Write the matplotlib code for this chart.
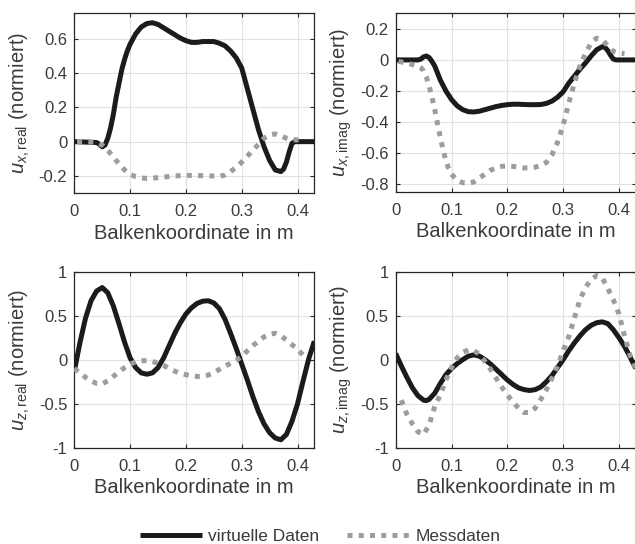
import matplotlib
matplotlib.use("Agg")
import matplotlib.pyplot as plt

plt.rcParams['font.family'] = ['Liberation Sans', 'DejaVu Sans']
plt.rcParams['mathtext.fontset'] = 'custom'
plt.rcParams['mathtext.rm'] = 'Liberation Sans'
plt.rcParams['mathtext.it'] = 'Liberation Sans:italic'

############################## Data ##################################
# u_x real part
uxr_virt_x = [0, 0.04, 0.045, 0.05, 0.055, 0.06, 0.065, 0.07, 0.075, 0.08, 0.085, 0.09,
              0.095, 0.10, 0.11, 0.12, 0.13, 0.14, 0.15, 0.16, 0.17, 0.18, 0.19, 0.20,
              0.21, 0.22, 0.23, 0.24, 0.25, 0.26, 0.27, 0.28, 0.29, 0.30, 0.31, 0.32,
              0.33, 0.34, 0.35, 0.36, 0.37, 0.375, 0.38, 0.385, 0.39, 0.395, 0.43]
uxr_virt_y = [0, -0.005, -0.015, -0.03, -0.02, 0.02, 0.08, 0.16, 0.26, 0.34, 0.42, 0.48,
              0.53, 0.57, 0.63, 0.67, 0.69, 0.695, 0.685, 0.665, 0.645, 0.625, 0.605, 0.59,
              0.58, 0.58, 0.585, 0.585, 0.585, 0.575, 0.56, 0.53, 0.49, 0.43, 0.31, 0.19,
              0.07, -0.03, -0.11, -0.165, -0.175, -0.16, -0.12, -0.06, -0.01, 0, 0]
uxr_mess_x = [0.005, 0.02, 0.04, 0.05, 0.06, 0.07, 0.08, 0.09, 0.10, 0.11, 0.12, 0.13,
              0.14, 0.16, 0.18, 0.20, 0.22, 0.24, 0.26, 0.27, 0.28, 0.29, 0.30, 0.31,
              0.32, 0.33, 0.34, 0.35, 0.36, 0.37, 0.38, 0.39, 0.40, 0.41]
uxr_mess_y = [0, 0, -0.005, -0.02, -0.05, -0.09, -0.13, -0.165, -0.19, -0.205, -0.212, -0.215,
              -0.213, -0.207, -0.2, -0.197, -0.198, -0.2, -0.202, -0.195, -0.175, -0.15, -0.12, -0.085,
              -0.05, -0.015, 0.02, 0.04, 0.045, 0.035, 0.02, 0.012, 0.01, 0.008]

# u_x imaginary part
uxi_virt_x = [0, 0.04, 0.045, 0.05, 0.055, 0.06, 0.065, 0.07, 0.08, 0.09, 0.10, 0.11,
              0.12, 0.13, 0.14, 0.15, 0.16, 0.17, 0.18, 0.19, 0.20, 0.21, 0.22, 0.23,
              0.24, 0.25, 0.26, 0.27, 0.28, 0.29, 0.30, 0.31, 0.32, 0.33, 0.34, 0.35,
              0.36, 0.37, 0.375, 0.38, 0.385, 0.39, 0.395, 0.43]
uxi_virt_y = [0, 0, 0.005, 0.02, 0.025, 0.015, -0.01, -0.04, -0.13, -0.2, -0.255, -0.295,
              -0.32, -0.333, -0.335, -0.33, -0.32, -0.31, -0.3, -0.293, -0.288, -0.285, -0.285, -0.287,
              -0.288, -0.288, -0.287, -0.28, -0.265, -0.24, -0.205, -0.15, -0.105, -0.06, -0.02, 0.025,
              0.065, 0.085, 0.08, 0.06, 0.03, 0.005, 0, 0]
uxi_mess_x = [0.005, 0.02, 0.03, 0.04, 0.045, 0.05, 0.055, 0.06, 0.065, 0.07, 0.075, 0.08,
              0.085, 0.09, 0.095, 0.10, 0.11, 0.12, 0.13, 0.14, 0.15, 0.16, 0.17, 0.18,
              0.19, 0.20, 0.21, 0.22, 0.23, 0.24, 0.25, 0.26, 0.27, 0.28, 0.29, 0.30,
              0.31, 0.32, 0.33, 0.34, 0.35, 0.36, 0.37, 0.38, 0.39, 0.40, 0.41]
uxi_mess_y = [-0.01, -0.02, -0.03, -0.04, -0.05, -0.07, -0.11, -0.17, -0.24, -0.32, -0.41, -0.5,
              -0.58, -0.65, -0.7, -0.735, -0.775, -0.79, -0.795, -0.785, -0.76, -0.735, -0.71, -0.695,
              -0.685, -0.682, -0.685, -0.69, -0.695, -0.695, -0.69, -0.68, -0.66, -0.61, -0.53, -0.42,
              -0.28, -0.15, -0.04, 0.04, 0.11, 0.14, 0.13, 0.09, 0.055, 0.045, 0.04]

# u_z real part
uzr_virt_x = [0, 0.01, 0.02, 0.03, 0.04, 0.05, 0.06, 0.07, 0.08, 0.09, 0.10, 0.11,
              0.12, 0.13, 0.14, 0.15, 0.16, 0.17, 0.18, 0.19, 0.20, 0.21, 0.22, 0.23,
              0.24, 0.25, 0.26, 0.27, 0.28, 0.29, 0.30, 0.31, 0.32, 0.33, 0.34, 0.35,
              0.36, 0.37, 0.38, 0.39, 0.40, 0.41, 0.42, 0.43]
uzr_virt_y = [-0.13, 0.19, 0.47, 0.67, 0.78, 0.82, 0.76, 0.61, 0.41, 0.2, 0.02, -0.09,
              -0.15, -0.165, -0.15, -0.09, 0.02, 0.16, 0.3, 0.42, 0.52, 0.59, 0.64, 0.665,
              0.67, 0.645, 0.58, 0.46, 0.3, 0.13, -0.05, -0.23, -0.42, -0.59, -0.73, -0.83,
              -0.89, -0.91, -0.85, -0.7, -0.5, -0.24, 0.01, 0.21]
uzr_mess_x = [0.0, 0.01, 0.02, 0.03, 0.04, 0.05, 0.06, 0.07, 0.08, 0.09, 0.10, 0.11,
              0.12, 0.13, 0.14, 0.15, 0.16, 0.17, 0.18, 0.19, 0.20, 0.21, 0.22, 0.23,
              0.24, 0.25, 0.26, 0.27, 0.28, 0.29, 0.30, 0.31, 0.32, 0.33, 0.34, 0.35,
              0.36, 0.37, 0.38, 0.39, 0.40, 0.41]
uzr_mess_y = [-0.1, -0.15, -0.2, -0.24, -0.27, -0.275, -0.24, -0.19, -0.14, -0.09, -0.05, -0.025,
              -0.012, -0.01, -0.02, -0.04, -0.065, -0.1, -0.13, -0.155, -0.17, -0.185, -0.19, -0.19,
              -0.175, -0.145, -0.11, -0.075, -0.04, -0.005, 0.035, 0.1, 0.16, 0.21, 0.26, 0.29,
              0.3, 0.27, 0.225, 0.17, 0.12, 0.05]

# u_z imaginary part
uzi_virt_x = [0, 0.01, 0.02, 0.03, 0.04, 0.05, 0.055, 0.06, 0.07, 0.08, 0.09, 0.10,
              0.11, 0.12, 0.13, 0.14, 0.15, 0.16, 0.17, 0.18, 0.19, 0.20, 0.21, 0.22,
              0.23, 0.24, 0.25, 0.26, 0.27, 0.28, 0.29, 0.30, 0.31, 0.32, 0.33, 0.34,
              0.35, 0.36, 0.37, 0.38, 0.39, 0.40, 0.41, 0.42, 0.43]
uzi_virt_y = [0.07, -0.07, -0.2, -0.32, -0.41, -0.46, -0.465, -0.45, -0.38, -0.27, -0.17, -0.1,
              -0.045, 0.0, 0.04, 0.055, 0.04, 0.0, -0.05, -0.11, -0.17, -0.23, -0.28, -0.32,
              -0.34, -0.35, -0.34, -0.31, -0.25, -0.18, -0.09, 0.0, 0.1, 0.19, 0.27, 0.34,
              0.39, 0.42, 0.43, 0.41, 0.34, 0.25, 0.15, 0.03, -0.1]
uzi_mess_x = [0.01, 0.02, 0.03, 0.04, 0.05, 0.06, 0.07, 0.08, 0.09, 0.10, 0.11, 0.12,
              0.13, 0.14, 0.15, 0.16, 0.17, 0.18, 0.19, 0.20, 0.21, 0.22, 0.23, 0.24,
              0.25, 0.26, 0.27, 0.28, 0.29, 0.30, 0.31, 0.32, 0.33, 0.34, 0.35, 0.36,
              0.37, 0.38, 0.39, 0.40, 0.41, 0.42, 0.43]
uzi_mess_y = [-0.46, -0.62, -0.73, -0.82, -0.85, -0.74, -0.53, -0.4, -0.23, -0.09, 0.02, 0.085,
              0.11, 0.105, 0.06, -0.02, -0.11, -0.21, -0.31, -0.4, -0.48, -0.55, -0.6, -0.6,
              -0.55, -0.45, -0.34, -0.21, -0.07, 0.1, 0.26, 0.47, 0.68, 0.82, 0.91, 0.955,
              0.93, 0.81, 0.68, 0.52, 0.27, 0.05, -0.1]

x_ticks = [0, 0.1, 0.2, 0.3, 0.4]
x_ticklabels = ['0', '0.1', '0.2', '0.3', '0.4']
yticks_uxr = [-0.2, 0, 0.2, 0.4, 0.6]
ylabels_uxr = ['-0.2', '0', '0.2', '0.4', '0.6']
yticks_uxi = [-0.8, -0.6, -0.4, -0.2, 0, 0.2]
ylabels_uxi = ['-0.8', '-0.6', '-0.4', '-0.2', '0', '0.2']
yticks_uz = [-1, -0.5, 0, 0.5, 1]
ylabels_uz = ['-1', '-0.5', '0', '0.5', '1']

########################### Plot ########################################
BLACK = '#1b1b1b'
GREY = '#9d9d9d'
TXT = '#3a3a3a'
W, H = 635, 544

fig = plt.figure(figsize=(W / 100, H / 100), dpi=100)

def make_axes(left_px, top_px, bottom_px):
    return fig.add_axes([left_px / W, 1 - bottom_px / H, 240 / W, (bottom_px - top_px) / H])

panels = [
    (make_axes(74.3, 13.3, 193.0), uxr_virt_x, uxr_virt_y, uxr_mess_x, uxr_mess_y,
     (-0.3, 0.75), yticks_uxr, ylabels_uxr, r'$u_{x,\mathrm{real}}$ (normiert)'),
    (make_axes(395.7, 13.3, 192.0), uxi_virt_x, uxi_virt_y, uxi_mess_x, uxi_mess_y,
     (-0.85, 0.3), yticks_uxi, ylabels_uxi, r'$u_{x,\mathrm{imag}}$ (normiert)'),
    (make_axes(74.3, 271.7, 447.7), uzr_virt_x, uzr_virt_y, uzr_mess_x, uzr_mess_y,
     (-1, 1), yticks_uz, ylabels_uz, r'$u_{z,\mathrm{real}}$ (normiert)'),
    (make_axes(395.7, 271.7, 447.7), uzi_virt_x, uzi_virt_y, uzi_mess_x, uzi_mess_y,
     (-1, 1), yticks_uz, ylabels_uz, r'$u_{z,\mathrm{imag}}$ (normiert)'),
]

for ax, vx, vy, mx, my, ylim, yt, ytl, ylab in panels:
    ax.plot(vx, vy, color=BLACK, lw=3.6, solid_capstyle='butt', label='virtuelle Daten', zorder=3)
    ax.plot(mx, my, color=GREY, lw=3.6, dashes=(1, 1.25), dash_capstyle='butt',
            label='Messdaten', zorder=4)
    ax.set_xlim(0, 0.43)
    ax.set_ylim(*ylim)
    ax.set_xticks(x_ticks)
    ax.set_xticklabels(x_ticklabels)
    ax.set_yticks(yt)
    ax.set_yticklabels(ytl)
    ax.grid(True, color='#e2e2e2', lw=0.8)
    ax.set_axisbelow(True)
    ax.tick_params(direction='in', top=True, right=True, length=3, width=0.8,
                   color='#262626', labelsize=12, labelcolor=TXT)
    ax.tick_params(axis='x', pad=8)
    ax.tick_params(axis='y', pad=5)
    for sp in ax.spines.values():
        sp.set_color('#262626')
        sp.set_linewidth(0.9)
    ax.set_xlabel('Balkenkoordinate in m', fontsize=14.5, color=TXT)
    ax.set_ylabel(ylab, fontsize=14.5, color=TXT)
    ax.xaxis.set_label_coords(0.5, -0.17)
    ax.yaxis.set_label_coords(-0.175, 0.5)

handles, labels = panels[0][0].get_legend_handles_labels()
fig.legend(handles, labels, loc='center', bbox_to_anchor=(0.504, 0.0147), ncol=2,
           frameon=False, fontsize=12.5, handlelength=3.6, handletextpad=0.35,
           columnspacing=1.6, labelcolor=TXT)

fig.savefig('out.png', dpi=100)
